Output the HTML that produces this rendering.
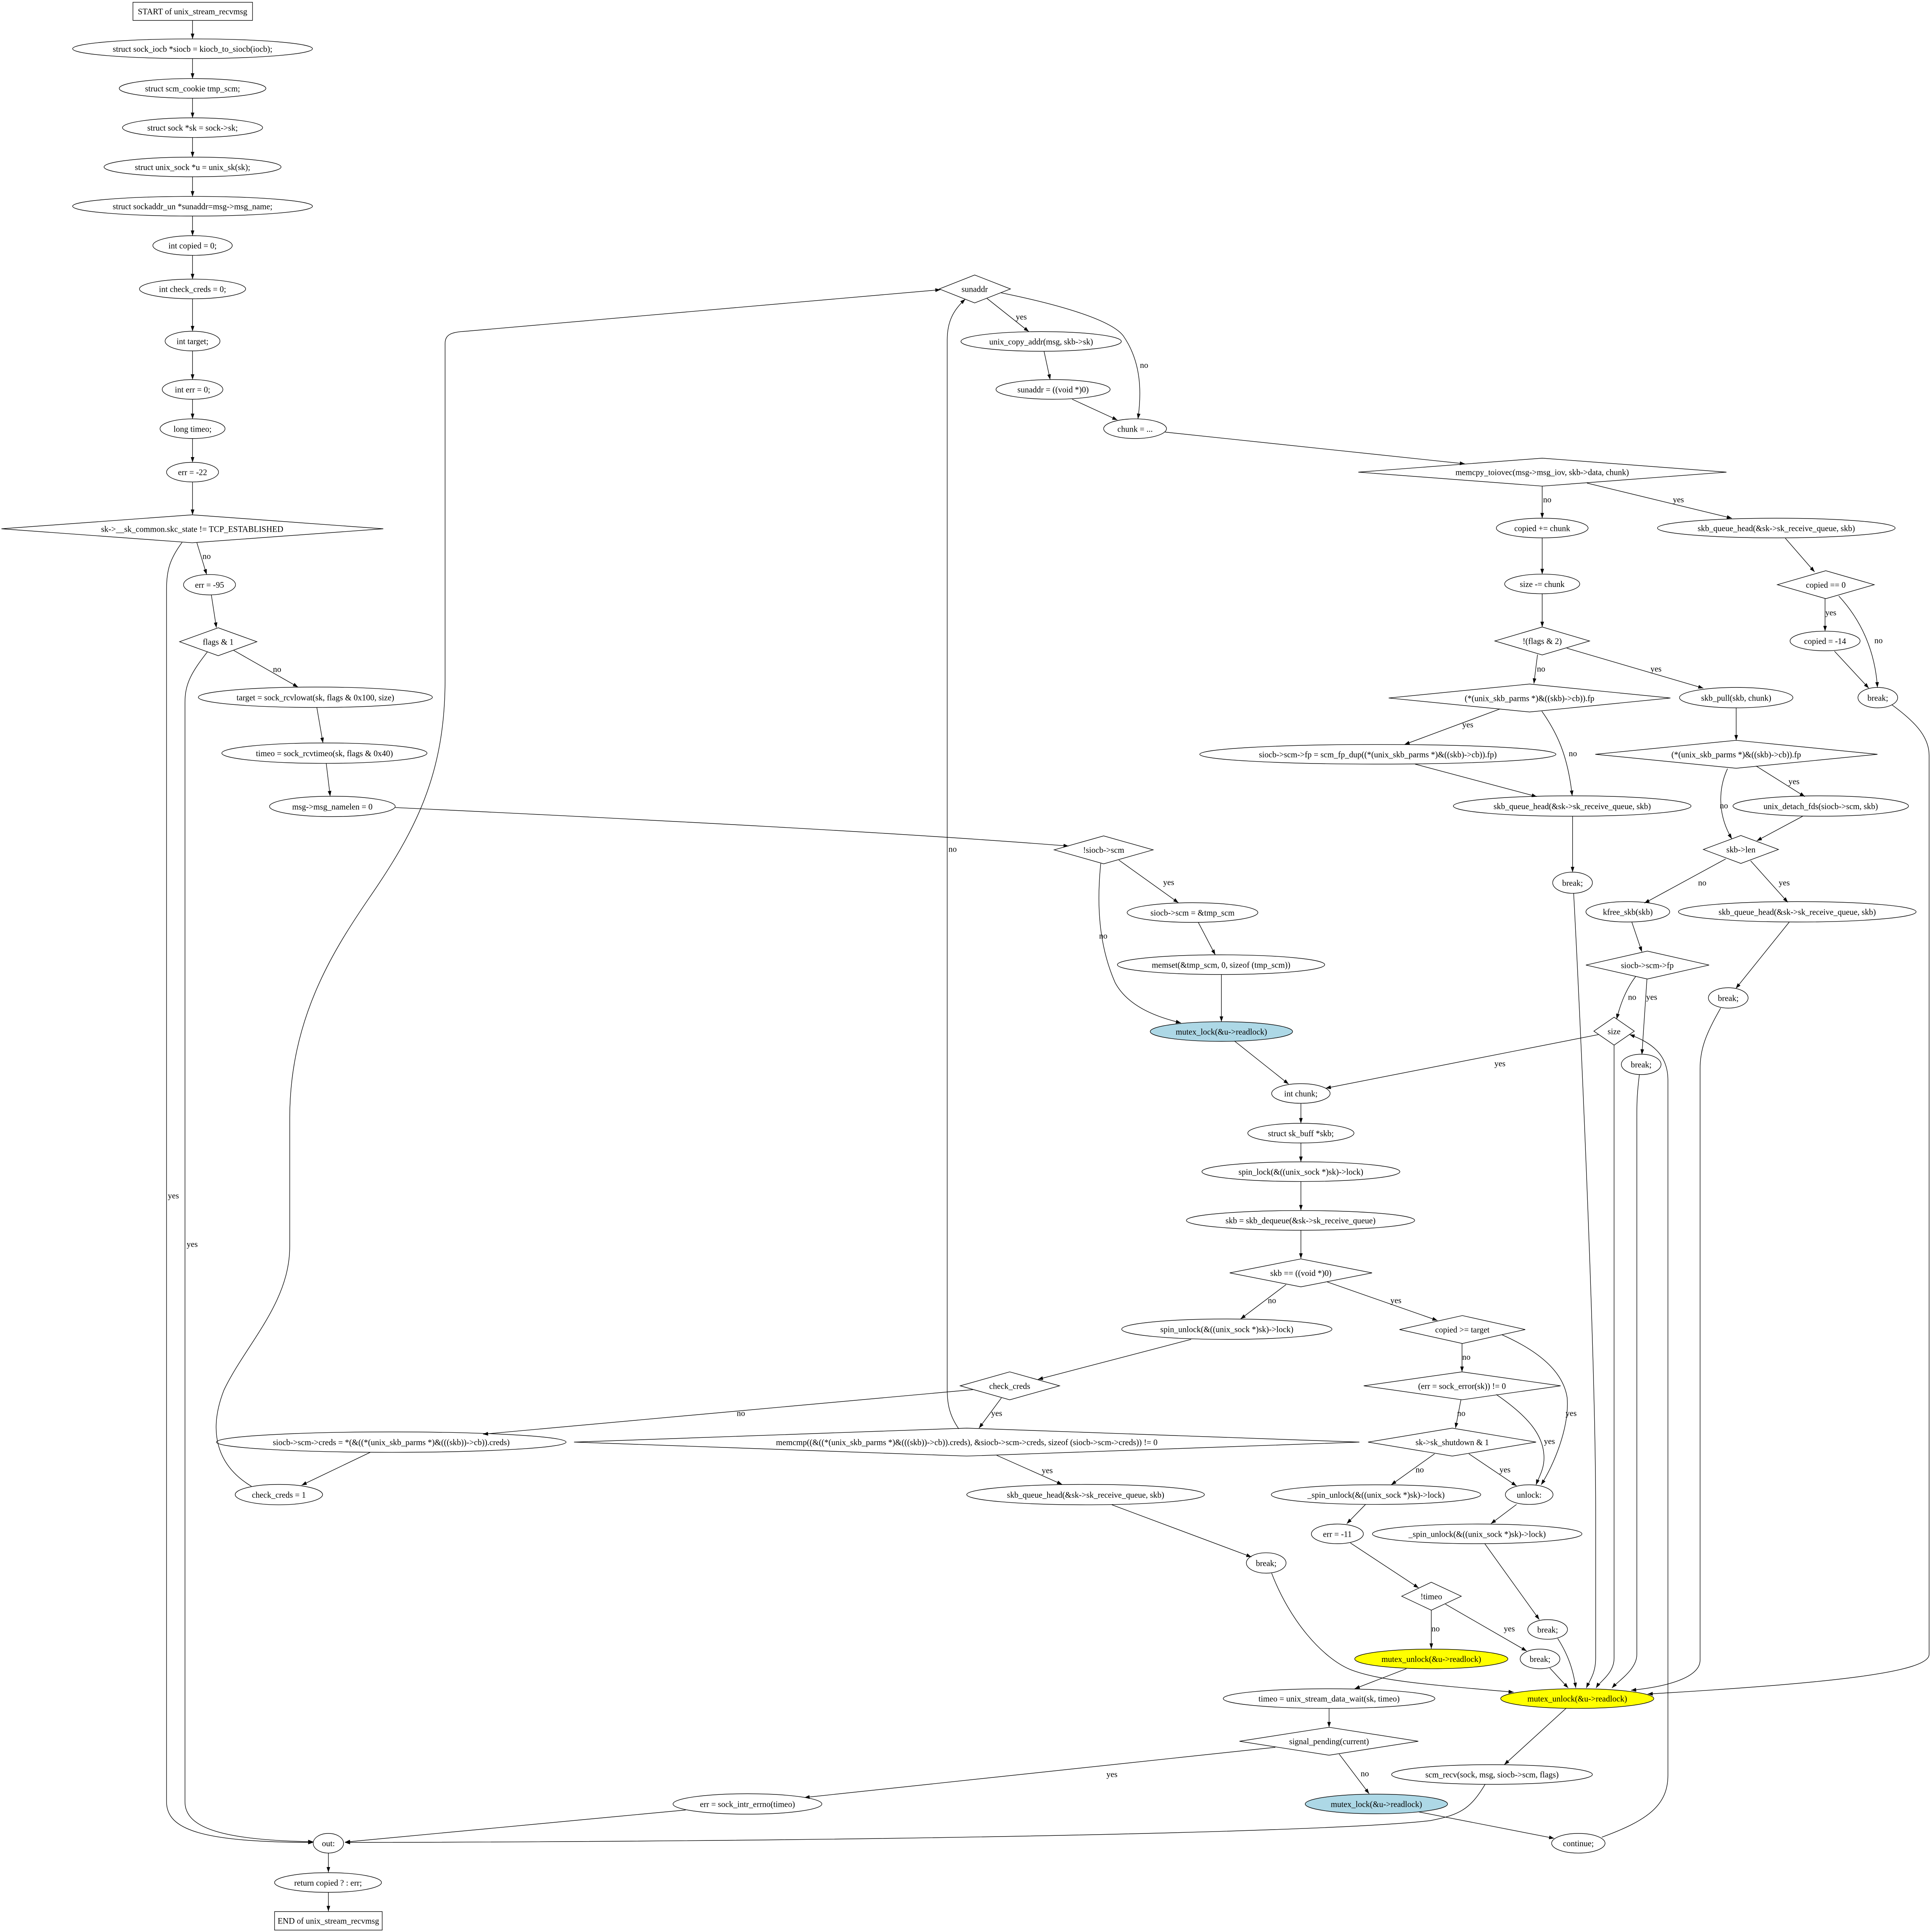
<!DOCTYPE html>
<html><head><meta charset="utf-8"><title>unix_stream_recvmsg</title>
<style>
html,body{margin:0;padding:0;background:#fff;width:100%;height:100%;overflow:hidden;}
svg{display:block;width:100vw;height:100vh;}
text{font-family:"Liberation Serif","Times New Roman",serif;font-size:23px;fill:#000;text-anchor:middle;}
.n{fill:none;stroke:#000;stroke-width:1.5;}
.e{fill:none;stroke:#000;stroke-width:1.5;marker-end:url(#a);}
</style></head><body>
<svg xmlns="http://www.w3.org/2000/svg" viewBox="0 0 5348 5115" preserveAspectRatio="none">
<defs><marker id="a" markerWidth="16" markerHeight="12" refX="14" refY="5" orient="auto" markerUnits="userSpaceOnUse"><path d="M0,0 L14,5 L0,10 z" fill="#000"/></marker></defs>
<rect x="0" y="0" width="5348" height="5115" fill="#fff"/>

<!-- Nodes: left column -->
<rect class="n" x="368" y="6" width="331" height="48"/><text x="533" y="38">START of unix_stream_recvmsg</text>
<ellipse class="n" cx="533" cy="129" rx="332" ry="26"/><text x="533" y="137">struct sock_iocb *siocb = kiocb_to_siocb(iocb);</text>
<ellipse class="n" cx="533" cy="234" rx="203" ry="26"/><text x="533" y="242">struct scm_cookie tmp_scm;</text>
<ellipse class="n" cx="533" cy="338" rx="194" ry="26"/><text x="533" y="346">struct sock *sk = sock-&gt;sk;</text>
<ellipse class="n" cx="533" cy="442" rx="245" ry="26"/><text x="533" y="450">struct unix_sock *u = unix_sk(sk);</text>
<ellipse class="n" cx="533" cy="546" rx="332" ry="26"/><text x="533" y="554">struct sockaddr_un *sunaddr=msg-&gt;msg_name;</text>
<ellipse class="n" cx="533" cy="650" rx="110" ry="26"/><text x="533" y="658">int copied = 0;</text>
<ellipse class="n" cx="533" cy="765" rx="147" ry="26"/><text x="533" y="773">int check_creds = 0;</text>
<ellipse class="n" cx="533" cy="903" rx="76" ry="26"/><text x="533" y="911">int target;</text>
<ellipse class="n" cx="533" cy="1031" rx="84" ry="26"/><text x="533" y="1039">int err = 0;</text>
<ellipse class="n" cx="533" cy="1135" rx="90" ry="26"/><text x="533" y="1143">long timeo;</text>
<ellipse class="n" cx="533" cy="1250" rx="72" ry="26"/><text x="533" y="1258">err = -22</text>
<polygon class="n" points="4,1400 532,1363 1061,1400 532,1437"/><text x="532" y="1408">sk-&gt;__sk_common.skc_state != TCP_ESTABLISHED</text>
<ellipse class="n" cx="580" cy="1548" rx="72" ry="27"/><text x="580" y="1556">err = -95</text>
<polygon class="n" points="497,1699 604,1662 711,1699 604,1736"/><text x="604" y="1707">flags &amp; 1</text>
<ellipse class="n" cx="873" cy="1846" rx="324" ry="27"/><text x="873" y="1854">target = sock_rcvlowat(sk, flags &amp; 0x100, size)</text>
<ellipse class="n" cx="898" cy="1994" rx="284" ry="27"/><text x="898" y="2002">timeo = sock_rcvtimeo(sk, flags &amp; 0x40)</text>
<ellipse class="n" cx="920" cy="2135" rx="174" ry="27"/><text x="920" y="2143">msg-&gt;msg_namelen = 0</text>

<!-- top middle -->
<polygon class="n" points="2600,765 2698,728 2797,765 2698,802"/><text x="2698" y="773">sunaddr</text>
<ellipse class="n" cx="2882" cy="904" rx="222" ry="26"/><text x="2882" y="912">unix_copy_addr(msg, skb-&gt;sk)</text>
<ellipse class="n" cx="2915" cy="1031" rx="158" ry="26"/><text x="2915" y="1039">sunaddr = ((void *)0)</text>
<ellipse class="n" cx="3142" cy="1135" rx="87" ry="26"/><text x="3142" y="1143">chunk = ...</text>
<polygon class="n" points="3760,1250 4269,1213 4779,1250 4269,1287"/><text x="4269" y="1258">memcpy_toiovec(msg-&gt;msg_iov, skb-&gt;data, chunk)</text>
<ellipse class="n" cx="4269" cy="1398" rx="127" ry="26"/><text x="4269" y="1406">copied += chunk</text>
<ellipse class="n" cx="4917" cy="1398" rx="329" ry="26"/><text x="4917" y="1406">skb_queue_head(&amp;sk-&gt;sk_receive_queue, skb)</text>
<polygon class="n" points="4920,1548 5054,1511 5188,1548 5054,1585"/><text x="5054" y="1556">copied == 0</text>
<ellipse class="n" cx="5052" cy="1697" rx="97" ry="26"/><text x="5052" y="1705">copied = -14</text>
<ellipse class="n" cx="5198" cy="1847" rx="55" ry="27"/><text x="5198" y="1855">break;</text>
<ellipse class="n" cx="4269" cy="1546" rx="104" ry="26"/><text x="4269" y="1554">size -= chunk</text>
<polygon class="n" points="4138,1697 4269,1660 4400,1697 4269,1734"/><text x="4269" y="1705">!(flags &amp; 2)</text>
<polygon class="n" points="3844,1848 4234,1811 4624,1848 4234,1885"/><text x="4234" y="1856">(*(unix_skb_parms *)&amp;((skb)-&gt;cb)).fp</text>
<ellipse class="n" cx="4806" cy="1847" rx="157" ry="27"/><text x="4806" y="1855">skb_pull(skb, chunk)</text>
<ellipse class="n" cx="3814" cy="1997" rx="493" ry="26"/><text x="3814" y="2005">siocb-&gt;scm-&gt;fp = scm_fp_dup((*(unix_skb_parms *)&amp;((skb)-&gt;cb)).fp)</text>
<ellipse class="n" cx="4352" cy="2134" rx="329" ry="27"/><text x="4352" y="2142">skb_queue_head(&amp;sk-&gt;sk_receive_queue, skb)</text>
<ellipse class="n" cx="4353" cy="2337" rx="55" ry="28"/><text x="4353" y="2345">break;</text>
<polygon class="n" points="4416,1997 4806,1960 5197,1997 4806,2034"/><text x="4806" y="2005">(*(unix_skb_parms *)&amp;((skb)-&gt;cb)).fp</text>
<ellipse class="n" cx="5040" cy="2134" rx="243" ry="27"/><text x="5040" y="2142">unix_detach_fds(siocb-&gt;scm, skb)</text>
<polygon class="n" points="4715,2249 4819,2212 4923,2249 4819,2286"/><text x="4819" y="2257">skb-&gt;len</text>
<ellipse class="n" cx="4506" cy="2414" rx="116" ry="27"/><text x="4506" y="2422">kfree_skb(skb)</text>
<ellipse class="n" cx="4975" cy="2414" rx="329" ry="27"/><text x="4975" y="2422">skb_queue_head(&amp;sk-&gt;sk_receive_queue, skb)</text>
<polygon class="n" points="4390,2555 4560,2518 4731,2555 4560,2592"/><text x="4560" y="2563">siocb-&gt;scm-&gt;fp</text>
<ellipse class="n" cx="4784" cy="2642" rx="55" ry="27"/><text x="4784" y="2650">break;</text>
<polygon class="n" points="4412,2730 4468,2693 4524,2730 4468,2767"/><text x="4468" y="2738">size</text>
<ellipse class="n" cx="4543" cy="2818" rx="55" ry="27"/><text x="4543" y="2826">break;</text>

<!-- middle -->
<polygon class="n" points="2918,2250 3055,2213 3192,2250 3055,2287"/><text x="3055" y="2258">!siocb-&gt;scm</text>
<ellipse class="n" cx="3301" cy="2416" rx="181" ry="26"/><text x="3301" y="2424">siocb-&gt;scm = &amp;tmp_scm</text>
<ellipse class="n" cx="3380" cy="2554" rx="287" ry="26"/><text x="3380" y="2562">memset(&amp;tmp_scm, 0, sizeof (tmp_scm))</text>
<ellipse class="n" cx="3381" cy="2731" rx="197" ry="26" style="fill:#add8e6"/><text x="3381" y="2739">mutex_lock(&amp;u-&gt;readlock)</text>
<ellipse class="n" cx="3601" cy="2895" rx="81" ry="26"/><text x="3601" y="2903">int chunk;</text>
<ellipse class="n" cx="3601" cy="3000" rx="147" ry="26"/><text x="3601" y="3008">struct sk_buff *skb;</text>
<ellipse class="n" cx="3601" cy="3102" rx="274" ry="26"/><text x="3601" y="3110">spin_lock(&amp;((unix_sock *)sk)-&gt;lock)</text>
<ellipse class="n" cx="3600" cy="3231" rx="316" ry="26"/><text x="3600" y="3239">skb = skb_dequeue(&amp;sk-&gt;sk_receive_queue)</text>
<polygon class="n" points="3404,3370 3601,3333 3798,3370 3601,3407"/><text x="3601" y="3378">skb == ((void *)0)</text>
<ellipse class="n" cx="3396" cy="3519" rx="291" ry="27"/><text x="3396" y="3527">spin_unlock(&amp;((unix_sock *)sk)-&gt;lock)</text>
<polygon class="n" points="3874,3520 4048,3483 4222,3520 4048,3557"/><text x="4048" y="3528">copied &gt;= target</text>
<polygon class="n" points="3775,3669 4047,3632 4320,3669 4047,3706"/><text x="4047" y="3677">(err = sock_error(sk)) != 0</text>
<polygon class="n" points="3787,3818 4020,3781 4252,3818 4020,3855"/><text x="4020" y="3826">sk-&gt;sk_shutdown &amp; 1</text>
<ellipse class="n" cx="3809" cy="3957" rx="290" ry="26"/><text x="3809" y="3965">_spin_unlock(&amp;((unix_sock *)sk)-&gt;lock)</text>
<ellipse class="n" cx="4233" cy="3957" rx="66" ry="26"/><text x="4233" y="3965">unlock:</text>
<ellipse class="n" cx="3702" cy="4061" rx="72" ry="26"/><text x="3702" y="4069">err = -11</text>
<ellipse class="n" cx="4089" cy="4061" rx="290" ry="26"/><text x="4089" y="4069">_spin_unlock(&amp;((unix_sock *)sk)-&gt;lock)</text>
<polygon class="n" points="3880,4226 3962,4189 4045,4226 3962,4263"/><text x="3962" y="4234">!timeo</text>
<ellipse class="n" cx="3962" cy="4392" rx="212" ry="26" style="fill:#ffff00"/><text x="3962" y="4400">mutex_unlock(&amp;u-&gt;readlock)</text>
<ellipse class="n" cx="4263" cy="4392" rx="55" ry="26"/><text x="4263" y="4400">break;</text>
<ellipse class="n" cx="4284" cy="4314" rx="55" ry="26"/><text x="4284" y="4322">break;</text>
<ellipse class="n" cx="4366" cy="4497" rx="212" ry="26" style="fill:#ffff00"/><text x="4366" y="4505">mutex_unlock(&amp;u-&gt;readlock)</text>
<ellipse class="n" cx="3679" cy="4497" rx="293" ry="26"/><text x="3679" y="4505">timeo = unix_stream_data_wait(sk, timeo)</text>
<polygon class="n" points="3431,4610 3679,4573 3926,4610 3679,4647"/><text x="3679" y="4618">signal_pending(current)</text>
<ellipse class="n" cx="3810" cy="4776" rx="197" ry="26" style="fill:#add8e6"/><text x="3810" y="4784">mutex_lock(&amp;u-&gt;readlock)</text>
<ellipse class="n" cx="4369" cy="4880" rx="74" ry="26"/><text x="4369" y="4888">continue;</text>
<ellipse class="n" cx="4130" cy="4698" rx="278" ry="26"/><text x="4130" y="4706">scm_recv(sock, msg, siocb-&gt;scm, flags)</text>
<ellipse class="n" cx="2069" cy="4776" rx="206" ry="27"/><text x="2069" y="4784">err = sock_intr_errno(timeo)</text>
<ellipse class="n" cx="909" cy="4880" rx="42" ry="26"/><text x="909" y="4888">out:</text>
<ellipse class="n" cx="908" cy="4984" rx="148" ry="26"/><text x="908" y="4992">return copied ? : err;</text>
<rect class="n" x="760" y="5061" width="298" height="49"/><text x="909" y="5093">END of unix_stream_recvmsg</text>

<!-- lower left -->
<polygon class="n" points="2658,3669 2795,3632 2933,3669 2795,3706"/><text x="2795" y="3677">check_creds</text>
<ellipse class="n" cx="1083" cy="3818" rx="484" ry="27"/><text x="1083" y="3826">siocb-&gt;scm-&gt;creds = *(&amp;((*(unix_skb_parms *)&amp;(((skb))-&gt;cb)).creds)</text>
<polygon class="n" points="1589,3818 2676,3781 3763,3818 2676,3855"/><text x="2676" y="3826">memcmp((&amp;((*(unix_skb_parms *)&amp;(((skb))-&gt;cb)).creds), &amp;siocb-&gt;scm-&gt;creds, sizeof (siocb-&gt;scm-&gt;creds)) != 0</text>
<ellipse class="n" cx="772" cy="3957" rx="121" ry="27"/><text x="772" y="3965">check_creds = 1</text>
<ellipse class="n" cx="3005" cy="3957" rx="329" ry="27"/><text x="3005" y="3965">skb_queue_head(&amp;sk-&gt;sk_receive_queue, skb)</text>
<ellipse class="n" cx="3505" cy="4138" rx="55" ry="27"/><text x="3505" y="4146">break;</text>

<!-- Edges -->
<path class="e" d="M533,54 L533,103"/>
<path class="e" d="M533,155 L533,208"/>
<path class="e" d="M533,260 L533,312"/>
<path class="e" d="M533,364 L533,416"/>
<path class="e" d="M533,468 L533,520"/>
<path class="e" d="M533,572 L533,624"/>
<path class="e" d="M533,676 L533,739"/>
<path class="e" d="M533,791 L533,877"/>
<path class="e" d="M533,929 L533,1005"/>
<path class="e" d="M533,1057 L533,1109"/>
<path class="e" d="M533,1161 L533,1224"/>
<path class="e" d="M533,1276 L533,1363"/>
<path class="e" d="M545,1437 L572,1521"/>
<path class="e" d="M585,1575 L599,1662"/>
<path class="e" d="M647,1722 L825,1819"/>
<path class="e" d="M877,1873 L894,1967"/>
<path class="e" d="M903,2021 L914,2108"/>
<path class="e" d="M1094,2138 C1800,2170 2500,2205 2958,2240"/>
<path class="e" d="M504,1436 C470,1480 461,1510 461,1560 L461,4770 C461,4845 560,4877 867,4878"/>
<path class="e" d="M574,1726 C530,1780 512,1810 512,1860 L512,4770 C512,4835 600,4872 867,4876"/>
<path class="e" d="M696,3935 C600,3880 575,3790 620,3680 C680,3560 802,3450 802,3300 L802,2960 C802,2700 920,2520 1020,2380 C1150,2200 1232,2050 1232,1800 L1232,910 C1232,885 1250,879 1290,877 L2603,767"/>
<path class="e" d="M2654,3783 C2630,3750 2622,3720 2622,3680 L2622,900 C2622,850 2640,820 2672,792"/>
<path class="e" d="M2732,790 L2848,878"/>
<path class="e" d="M2770,775 C2950,810 3080,850 3110,890 C3160,960 3160,1040 3150,1109"/>
<path class="e" d="M2890,930 L2907,1005"/>
<path class="e" d="M2968,1057 L3093,1112"/>
<path class="e" d="M3225,1144 L4055,1228"/>
<path class="e" d="M4269,1287 L4269,1372"/>
<path class="e" d="M4393,1279 L4794,1372"/>
<path class="e" d="M4269,1424 L4269,1520"/>
<path class="e" d="M4269,1572 L4269,1660"/>
<path class="e" d="M4256,1733 L4246,1810"/>
<path class="e" d="M4337,1716 L4715,1822"/>
<path class="e" d="M4152,1877 L3888,1971"/>
<path class="e" d="M4268,1883 C4310,1940 4340,2000 4352,2107"/>
<path class="e" d="M3917,2023 L4254,2109"/>
<path class="e" d="M4353,2161 L4353,2309"/>
<path class="e" d="M4356,2365 C4375,2700 4417,3600 4417,4000 L4417,4390 C4417,4430 4400,4450 4391,4469"/>
<path class="e" d="M4806,1874 L4806,1960"/>
<path class="e" d="M4861,2028 L4996,2109"/>
<path class="e" d="M4782,2035 C4760,2080 4750,2150 4794,2221"/>
<path class="e" d="M4990,2161 L4863,2226"/>
<path class="e" d="M4777,2274 L4552,2391"/>
<path class="e" d="M4846,2279 L4949,2389"/>
<path class="e" d="M4517,2441 L4545,2520"/>
<path class="e" d="M4953,2441 L4805,2617"/>
<path class="e" d="M4763,2669 C4720,2740 4706,2780 4706,2830 L4706,4395 C4706,4440 4620,4465 4515,4475"/>
<path class="e" d="M4942,1425 L5023,1514"/>
<path class="e" d="M5052,1585 L5052,1671"/>
<path class="e" d="M5090,1578 C5150,1640 5190,1720 5197,1820"/>
<path class="e" d="M5078,1724 L5173,1822"/>
<path class="e" d="M5237,1866 C5300,1910 5340,1950 5340,2000 L5340,4380 C5340,4425 5100,4455 4561,4485"/>
<path class="e" d="M4528,2585 C4500,2620 4485,2660 4475,2698"/>
<path class="e" d="M4559,2591 L4545,2792"/>
<path class="e" d="M4425,2739 L3670,2881"/>
<path class="e" d="M4468,2767 L4468,4390 C4468,4430 4430,4450 4418,4469"/>
<path class="e" d="M4538,2845 C4531,2900 4531,2920 4531,2960 L4531,4380 C4531,4420 4480,4450 4462,4469"/>
<path class="e" d="M4434,4864 C4560,4820 4617,4780 4617,4700 L4617,2860 C4617,2790 4570,2760 4511,2739"/>
<path class="e" d="M3097,2277 L3262,2390"/>
<path class="e" d="M3047,2286 C3036,2391 3040,2500 3087,2602 C3120,2660 3190,2690 3269,2708"/>
<path class="e" d="M3317,2442 L3364,2528"/>
<path class="e" d="M3381,2580 L3381,2705"/>
<path class="e" d="M3417,2756 L3567,2870"/>
<path class="e" d="M3601,2921 L3601,2974"/>
<path class="e" d="M3601,3026 L3601,3076"/>
<path class="e" d="M3601,3128 L3601,3204"/>
<path class="e" d="M3601,3257 L3601,3332"/>
<path class="e" d="M3560,3401 L3434,3492"/>
<path class="e" d="M3674,3394 L3979,3496"/>
<path class="e" d="M3297,3546 L2873,3652"/>
<path class="e" d="M4047,3557 L4047,3632"/>
<path class="e" d="M4158,3534 C4290,3590 4330,3650 4338,3700 C4345,3780 4300,3880 4266,3931"/>
<path class="e" d="M4044,3706 L4029,3781"/>
<path class="e" d="M4142,3692 C4230,3750 4274,3800 4274,3860 C4274,3890 4260,3910 4252,3931"/>
<path class="e" d="M3971,3849 L3851,3931"/>
<path class="e" d="M4066,3849 L4198,3934"/>
<path class="e" d="M3780,3983 L3728,4034"/>
<path class="e" d="M4198,3983 L4127,4034"/>
<path class="e" d="M3738,4085 L3927,4204"/>
<path class="e" d="M4110,4087 L4261,4288"/>
<path class="e" d="M3962,4263 L3962,4365"/>
<path class="e" d="M4001,4247 L4226,4371"/>
<path class="e" d="M3893,4418 L3750,4471"/>
<path class="e" d="M3679,4523 L3679,4573"/>
<path class="e" d="M3707,4644 L3790,4749"/>
<path class="e" d="M3530,4626 L2227,4759"/>
<path class="e" d="M3927,4797 L4302,4867"/>
<path class="e" d="M4312,4338 C4340,4380 4355,4420 4362,4469"/>
<path class="e" d="M4290,4416 L4341,4469"/>
<path class="e" d="M3520,4165 C3570,4290 3660,4390 3740,4421 C3820,4450 3950,4460 4190,4480"/>
<path class="e" d="M4336,4522 L4164,4672"/>
<path class="e" d="M4111,4724 C4070,4790 4040,4805 3960,4820 C3700,4850 2500,4875 955,4878"/>
<path class="e" d="M1898,4792 L955,4877"/>
<path class="e" d="M909,4906 L909,4957"/>
<path class="e" d="M909,5010 L909,5060"/>
<path class="e" d="M2694,3679 L1337,3797"/>
<path class="e" d="M2772,3701 L2710,3781"/>
<path class="e" d="M2759,3853 L2940,3930"/>
<path class="e" d="M3078,3984 L3464,4122"/>
<path class="e" d="M1025,3845 L835,3932"/>

<!-- Edge labels -->
<text x="572" y="1480">no</text>
<text x="767" y="1779">no</text>
<text x="480" y="3173">yes</text>
<text x="532" y="3301">yes</text>
<text x="2827" y="846">yes</text>
<text x="3167" y="974">no</text>
<text x="4283" y="1330">no</text>
<text x="4646" y="1330">yes</text>
<text x="5068" y="1629">yes</text>
<text x="5200" y="1703">no</text>
<text x="4266" y="1778">no</text>
<text x="4584" y="1778">yes</text>
<text x="4063" y="1926">yes</text>
<text x="4354" y="2002">no</text>
<text x="4966" y="2076">yes</text>
<text x="4772" y="2140">no</text>
<text x="4712" y="2344">no</text>
<text x="4939" y="2344">yes</text>
<text x="4518" y="2647">no</text>
<text x="4572" y="2647">yes</text>
<text x="4152" y="2823">yes</text>
<text x="3235" y="2343">yes</text>
<text x="3054" y="2485">no</text>
<text x="3521" y="3450">no</text>
<text x="3864" y="3450">yes</text>
<text x="4059" y="3600">no</text>
<text x="4349" y="3749">yes</text>
<text x="4045" y="3749">no</text>
<text x="4289" y="3823">yes</text>
<text x="3930" y="3898">no</text>
<text x="4166" y="3898">yes</text>
<text x="3974" y="4319">no</text>
<text x="4178" y="4319">yes</text>
<text x="3778" y="4703">no</text>
<text x="3078" y="4705">yes</text>
<text x="2051" y="3749">no</text>
<text x="2759" y="3749">yes</text>
<text x="2899" y="3900">yes</text>
<text x="2637" y="2255">no</text>
</svg>
</body></html>
